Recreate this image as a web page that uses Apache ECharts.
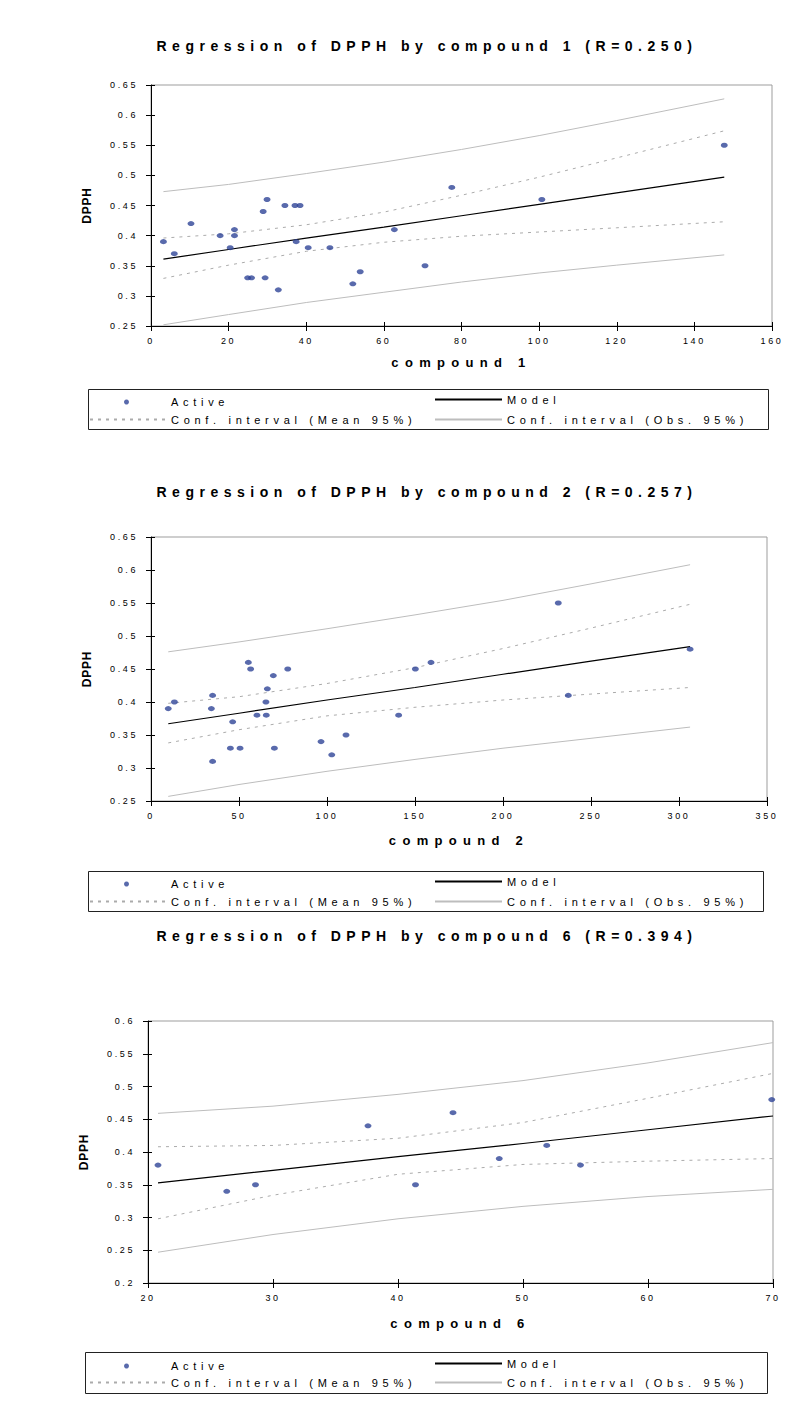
<!DOCTYPE html>
<html><head><meta charset="utf-8">
<script src="https://cdn.jsdelivr.net/npm/echarts@6/dist/echarts.min.js"></script>
<style>html,body{margin:0;padding:0;background:#fff}#c{width:802px;height:1408px}</style>
</head><body><div id="c"></div><script>
// ---------- text ----------
const titles = ['Regression of DPPH by compound 1 (R=0.250)', 'Regression of DPPH by compound 2 (R=0.257)', 'Regression of DPPH by compound 6 (R=0.394)'];
const xNames = ['compound 1', 'compound 2', 'compound 6'];
const yName = 'DPPH';
const seriesNames = ['Active', 'Model', 'Conf. interval (Mean 95%)', 'Conf. interval (Obs. 95%)'];
// ---------- axes ----------
const xMin = [0, 0, 20], xMax = [160, 350, 70], xStep = [20, 50, 10];
const yMin = [0.25, 0.25, 0.2], yMax = [0.65, 0.65, 0.6], yStep = [0.05, 0.05, 0.05];
// ---------- chart 1 ----------
const c1X = [3.2,6.0,10.3,17.8,20.4,21.5,21.5,24.9,25.9,29.4,28.9,29.9,32.8,34.5,37.4,37.1,38.4,40.5,46.1,52.0,53.9,62.7,70.6,77.5,100.7,147.7];
const c1Y = [0.39,0.37,0.42,0.40,0.38,0.41,0.40,0.33,0.33,0.33,0.44,0.46,0.31,0.45,0.39,0.45,0.45,0.38,0.38,0.32,0.34,0.41,0.35,0.48,0.46,0.55];
const c1LineX = [3.2,20,40,60,80,100,120,147.7];
const c1Model = [0.361,0.377,0.396,0.414,0.433,0.452,0.471,0.497];
const c1MeanUp = [0.396,0.403,0.418,0.439,0.467,0.497,0.529,0.574];
const c1MeanLo = [0.329,0.351,0.374,0.389,0.399,0.406,0.413,0.423];
const c1ObsUp = [0.473,0.485,0.503,0.522,0.543,0.566,0.591,0.627];
const c1ObsLo = [0.252,0.269,0.289,0.306,0.323,0.338,0.351,0.368];
// ---------- chart 2 ----------
const c2X = [9.8,13.3,35.0,34.3,35.0,46.4,45.1,50.6,55.3,56.6,60.2,65.3,65.5,66.1,69.5,70.1,77.7,96.6,102.7,110.8,140.7,150.2,159.1,231.4,237.1,306.3];
const c2Y = [0.39,0.40,0.41,0.39,0.31,0.37,0.33,0.33,0.46,0.45,0.38,0.40,0.38,0.42,0.44,0.33,0.45,0.34,0.32,0.35,0.38,0.45,0.46,0.55,0.41,0.48];
const c2LineX = [9.8,50,100,150,200,250,306.3];
const c2Model = [0.367,0.383,0.403,0.422,0.442,0.462,0.484];
const c2MeanUp = [0.398,0.408,0.428,0.452,0.481,0.512,0.548];
const c2MeanLo = [0.338,0.358,0.379,0.392,0.403,0.412,0.422];
const c2ObsUp = [0.476,0.491,0.511,0.532,0.554,0.579,0.608];
const c2ObsLo = [0.257,0.275,0.295,0.313,0.330,0.345,0.362];
// ---------- chart 3 ----------
const c3X = [20.8,26.3,28.6,37.6,41.4,44.4,48.1,51.9,54.6,69.9];
const c3Y = [0.38,0.34,0.35,0.44,0.35,0.46,0.39,0.41,0.38,0.48];
const c3LineX = [20.8,30,40,50,60,70];
const c3Model = [0.353,0.372,0.393,0.413,0.434,0.455];
const c3MeanUp = [0.408,0.410,0.421,0.445,0.482,0.520];
const c3MeanLo = [0.298,0.334,0.366,0.381,0.386,0.390];
const c3ObsUp = [0.459,0.470,0.488,0.509,0.536,0.567];
const c3ObsLo = [0.247,0.274,0.298,0.317,0.332,0.343];

const charts = [
  {x:c1X, y:c1Y, lx:c1LineX, model:c1Model, mu:c1MeanUp, ml:c1MeanLo, ou:c1ObsUp, ol:c1ObsLo},
  {x:c2X, y:c2Y, lx:c2LineX, model:c2Model, mu:c2MeanUp, ml:c2MeanLo, ou:c2ObsUp, ol:c2ObsLo},
  {x:c3X, y:c3Y, lx:c3LineX, model:c3Model, mu:c3MeanUp, ml:c3MeanLo, ou:c3ObsUp, ol:c3ObsLo}
];
// ---------- layout (pixels) ----------
const layout = [
  {grid:{left:151, top:85, width:621, height:241}, titleTop:39, box:[88,389,680,40], rows:[399,419], xGap:30},
  {grid:{left:151, top:537, width:616, height:264}, titleTop:485, box:[88,871,675,40], rows:[881,901], xGap:33},
  {grid:{left:148, top:1021, width:625, height:262}, titleTop:929, box:[85,1352,682,41], rows:[1363,1382], xGap:34}
];

const FONT = 'Liberation Sans';
const PT_COLOR = '#2f4597';
const option = {
  animation: false,
  backgroundColor: '#fff',
  title: [], grid: [], xAxis: [], yAxis: [], series: [], legend: [], graphic: []
};

const pairs = (xs, ys) => xs.map((v, i) => [v, ys[i]]);

charts.forEach((c, i) => {
  const L = layout[i];
  option.title.push({
    text: titles[i], left: 427, top: L.titleTop, textAlign: 'center', padding: 0,
    textStyle: {fontFamily: FONT, fontSize: 14, fontWeight: 'bold', color: '#000'}
  });
  option.grid.push(Object.assign({show: true, borderColor: '#9d9d9d', borderWidth: 1}, L.grid));
  const lab = {fontFamily: FONT, fontSize: 9, color: '#000'};
  // main axes: line, labels, outer ticks, name
  option.xAxis.push({
    type: 'value', gridIndex: i, position: 'bottom', min: xMin[i], max: xMax[i], interval: xStep[i],
    name: xNames[i], nameLocation: 'middle', nameGap: L.xGap,
    nameTextStyle: {fontFamily: FONT, fontSize: 13, fontWeight: 'bold', color: '#000'},
    axisLine: {show: true, onZero: false, lineStyle: {color: '#000', width: 1}},
    axisTick: {show: true, inside: false, length: 5, lineStyle: {color: '#000', width: 1}},
    axisLabel: Object.assign({margin: 10}, lab),
    splitLine: {show: false}
  });
  // companion axes: inner half of the cross ticks only
  option.xAxis.push({
    type: 'value', gridIndex: i, position: 'bottom', min: xMin[i], max: xMax[i], interval: xStep[i],
    axisLine: {show: false, onZero: false}, axisLabel: {show: false}, splitLine: {show: false},
    axisTick: {show: true, inside: true, length: 4, lineStyle: {color: '#000', width: 1}}
  });
  option.yAxis.push({
    type: 'value', gridIndex: i, position: 'left', min: yMin[i], max: yMax[i], interval: yStep[i],
    name: yName, nameLocation: 'middle', nameGap: 58, nameRotate: 90,
    nameTextStyle: {fontFamily: FONT, fontSize: 12, fontWeight: 'bold', color: '#000'},
    axisLine: {show: true, onZero: false, lineStyle: {color: '#000', width: 1}},
    axisTick: {show: true, inside: false, length: 5, lineStyle: {color: '#000', width: 1}},
    axisLabel: Object.assign({margin: 13}, lab),
    splitLine: {show: false}
  });
  option.yAxis.push({
    type: 'value', gridIndex: i, position: 'left', min: yMin[i], max: yMax[i], interval: yStep[i],
    axisLine: {show: false, onZero: false}, axisLabel: {show: false}, splitLine: {show: false},
    axisTick: {show: true, inside: true, length: 4, lineStyle: {color: '#000', width: 1}}
  });
  const xi = 2 * i, yi = 2 * i;
  const lineBase = {type: 'line', xAxisIndex: xi, yAxisIndex: yi, symbol: 'none', showSymbol: false, silent: true};
  option.series.push(Object.assign({}, lineBase, {name: seriesNames[3], data: pairs(c.lx, c.ou), lineStyle: {color: '#bdbdbd', width: 1}, z: 2}));
  option.series.push(Object.assign({}, lineBase, {name: seriesNames[3], data: pairs(c.lx, c.ol), lineStyle: {color: '#bdbdbd', width: 1}, z: 2}));
  option.series.push(Object.assign({}, lineBase, {name: seriesNames[2], data: pairs(c.lx, c.mu), lineStyle: {color: '#ababab', width: 1, type: [3, 5]}, z: 2}));
  option.series.push(Object.assign({}, lineBase, {name: seriesNames[2], data: pairs(c.lx, c.ml), lineStyle: {color: '#ababab', width: 1, type: [3, 5]}, z: 2}));
  option.series.push(Object.assign({}, lineBase, {name: seriesNames[1], data: pairs(c.lx, c.model), lineStyle: {color: '#000', width: 1.2}, z: 3}));
  option.series.push({
    type: 'scatter', name: seriesNames[0], xAxisIndex: xi, yAxisIndex: yi, data: pairs(c.x, c.y),
    symbol: 'circle', symbolSize: [7, 5], itemStyle: {color: PT_COLOR}, z: 4, silent: true
  });
  // legend (2 x 2 layout inside a framed box)
  const lt = {fontFamily: FONT, fontSize: 11, color: '#000'};
  const hideSym = {color: 'rgba(0,0,0,0)', borderWidth: 0, opacity: 0};
  option.legend.push({data: [seriesNames[0]], left: 124, top: L.rows[0] - 2.5, padding: 0, itemWidth: 7, itemHeight: 5, icon: 'circle', selectedMode: false,
    itemStyle: {color: PT_COLOR}, textStyle: Object.assign({padding: [0, 0, 0, 36]}, lt)});
  option.legend.push({data: [seriesNames[1]], left: 434, top: L.rows[0] - 5, padding: 0, itemWidth: 67, itemHeight: 10, selectedMode: false,
    itemStyle: hideSym, textStyle: lt});
  option.legend.push({data: [seriesNames[2]], left: 89, top: L.rows[1] - 5, padding: 0, itemWidth: 76, itemHeight: 10, selectedMode: false,
    itemStyle: hideSym, textStyle: lt});
  option.legend.push({data: [seriesNames[3]], left: 434, top: L.rows[1] - 5, padding: 0, itemWidth: 67, itemHeight: 10, selectedMode: false,
    itemStyle: hideSym, textStyle: lt});
  option.graphic.push({type: 'rect', silent: true, z: 0,
    shape: {x: L.box[0] + 0.5, y: L.box[1] + 0.5, width: L.box[2], height: L.box[3]},
    style: {fill: 'none', stroke: '#222', lineWidth: 1}});
});

const chart = echarts.init(document.getElementById('c'), null, {renderer: 'svg', width: 802, height: 1408});
chart.setOption(option);

function applySpacing() {
  document.querySelectorAll('#c svg text').forEach(t => {
    const s = t.textContent;
    let ls = 4.7;
    if (/^Regression/.test(s)) ls = 5.5;
    else if (/^compound/.test(s)) ls = 6.3;
    else if (s === 'DPPH') ls = 0.8;
    else if (/^[0-9.]+$/.test(s)) ls = 2.6;
    t.setAttribute('letter-spacing', ls);
  });
}
applySpacing();
chart.on('finished', applySpacing);
setTimeout(applySpacing, 50);
</script></body></html>
